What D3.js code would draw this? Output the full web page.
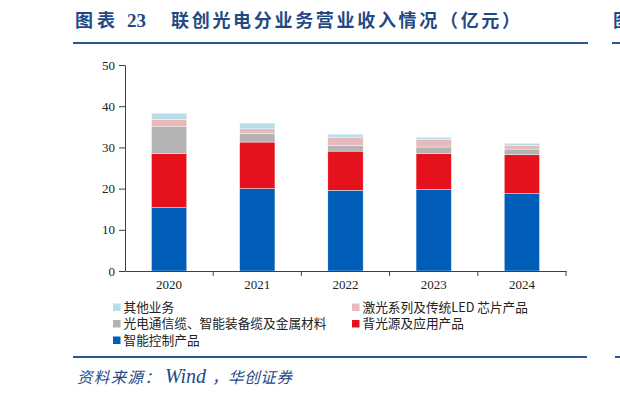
<!DOCTYPE html>
<html>
<head>
<meta charset="utf-8">
<script src="https://cdn.jsdelivr.net/npm/d3@7"></script>
<style>
  html, body { margin: 0; padding: 0; background: #fff; overflow: hidden; }
  svg { display: block; }
</style>
</head>
<body>
<svg id="chart" width="620" height="398"></svg>
<script>
// 数据（亿元）
const years = ['2020', '2021', '2022', '2023', '2024'];
const smartCtrl = [15.4, 20.0, 19.6, 19.8, 18.8];   // 智能控制产品
const backlight = [13.1, 11.3, 9.5, 8.7, 9.4];      // 背光源及应用产品
const cableMetal = [6.5, 2.05, 1.4, 1.6, 1.4];      // 光电通信缆、智能装备缆及金属材料
const laserLed = [1.8, 1.15, 2.0, 1.8, 0.8];        // 激光系列及传统LED 芯片产品
const others = [1.5, 1.4, 0.7, 0.55, 0.6];          // 其他业务
const yTicks = [0, 10, 20, 30, 40, 50];

const seriesKeys = ['smart', 'back', 'cable', 'laser', 'other'];
const seriesNames = {
  smart: '智能控制产品',
  back: '背光源及应用产品',
  cable: '光电通信缆、智能装备缆及金属材料',
  laser: '激光系列及传统LED 芯片产品',
  other: '其他业务'
};
const colors = {
  smart: '#005EB8', back: '#E5121D', cable: '#B3B3B3',
  laser: '#E8B9BA', other: '#B6DDE8'
};

const rows = years.map((y, i) => ({
  year: y, smart: smartCtrl[i], back: backlight[i], cable: cableMetal[i],
  laser: laserLed[i], other: others[i]
}));

const svg = d3.select('#chart');
const NAVY = '#1F4A86';
const CJK = '"Noto Sans CJK SC", sans-serif';
const SERIF = '"Liberation Serif", serif';

// ── 标题 ──
function titleText(x, str, opts) {
  const t = svg.append('text')
    .attr('x', x).attr('y', 27)
    .attr('fill', NAVY)
    .attr('font-family', opts.family)
    .attr('font-weight', 'bold').attr('font-size', opts.size)
    .text(str);
  if (opts.len) t.attr('textLength', opts.len).attr('lengthAdjust', 'spacing');
  return t;
}
titleText(75, '图表', { family: CJK, size: 18, len: 40 });
titleText(127, '23', { family: SERIF, size: 19 });
titleText(171, '联创光电分业务营业收入情况（亿元）', { family: CJK, size: 18, len: 349 });
// 右侧被截断的下一张图标题
titleText(613, '图', { family: CJK, size: 18 });

// 标题下线与来源上线
[[73, 588, 43], [612, 620, 43], [73, 587, 357], [615, 620, 357]].forEach(([x1, x2, y]) => {
  svg.append('line')
    .attr('x1', x1).attr('x2', x2).attr('y1', y).attr('y2', y)
    .attr('stroke', '#2A5690').attr('stroke-width', 2);
});

// ── 图表区 ──
const x = d3.scaleBand().domain(years).range([125, 566])
  .paddingInner(0.6).paddingOuter(0.3);
const y = d3.scaleLinear().domain([0, 50]).range([271, 65]);

const stack = d3.stack().keys(seriesKeys)(rows);

svg.append('g')
  .selectAll('g')
  .data(stack)
  .join('g')
  .attr('fill', d => colors[d.key])
  .selectAll('rect')
  .data(d => d)
  .join('rect')
  .attr('x', d => x(d.data.year))
  .attr('width', x.bandwidth())
  .attr('y', d => y(d[1]))
  .attr('height', d => y(d[0]) - y(d[1]))
  .attr('stroke', '#fff').attr('stroke-width', 0.4);

// Y 轴
const yAxis = svg.append('g')
  .attr('transform', 'translate(125,0)')
  .call(d3.axisLeft(y).tickValues(yTicks).tickSize(6).tickPadding(4).tickSizeOuter(0));
yAxis.select('.domain').attr('stroke', '#404040');
yAxis.selectAll('.tick line').attr('stroke', '#404040');
yAxis.selectAll('text')
  .attr('font-family', SERIF)
  .attr('font-size', 13).attr('fill', '#222');

// X 轴
const xAxis = svg.append('g')
  .attr('transform', 'translate(0,271)')
  .call(d3.axisBottom(x).tickSize(0).tickPadding(9));
xAxis.select('.domain').attr('stroke', '#404040');
xAxis.selectAll('text')
  .attr('font-family', SERIF)
  .attr('font-size', 13).attr('fill', '#222');
// 类别分隔刻度
const step = x.step();
const bounds = d3.range(years.length + 1).map(i => 125 + i * step);
xAxis.selectAll('line.sep')
  .data(bounds.slice(1))
  .join('line')
  .attr('class', 'sep')
  .attr('x1', d => d).attr('x2', d => d)
  .attr('y1', 0).attr('y2', 5)
  .attr('stroke', '#404040');

// ── 图例 ──
const legendItems = [
  { key: 'other', x: 113, y: 307 },
  { key: 'laser', x: 352, y: 307 },
  { key: 'cable', x: 113, y: 323.5 },
  { key: 'back', x: 352, y: 323.5 },
  { key: 'smart', x: 113, y: 340 }
];
const lg = svg.append('g')
  .selectAll('g')
  .data(legendItems)
  .join('g')
  .attr('transform', d => `translate(${d.x},${d.y})`);
lg.append('rect')
  .attr('x', 0).attr('y', -3.5)
  .attr('width', 7.5).attr('height', 7.5)
  .attr('fill', d => colors[d.key]);
lg.append('text')
  .attr('x', 10.5).attr('y', 0)
  .attr('dy', '0.36em')
  .attr('font-family', CJK)
  .attr('font-size', 12.7).attr('fill', '#222')
  .text(d => seriesNames[d.key]);

// ── 资料来源 ──
function srcText(x, str, family, size, len) {
  const t = svg.append('text')
    .attr('x', x).attr('y', 383)
    .attr('fill', NAVY)
    .attr('font-family', family)
    .attr('font-style', 'italic').attr('font-size', size)
    .text(str);
  if (len) t.attr('textLength', len).attr('lengthAdjust', 'spacing');
}
srcText(77, '资料来源：', CJK, 15.5, 83);
srcText(165, 'Wind', SERIF, 20);
srcText(212, '，华创证券', CJK, 15.5, 80);
</script>
</body>
</html>
